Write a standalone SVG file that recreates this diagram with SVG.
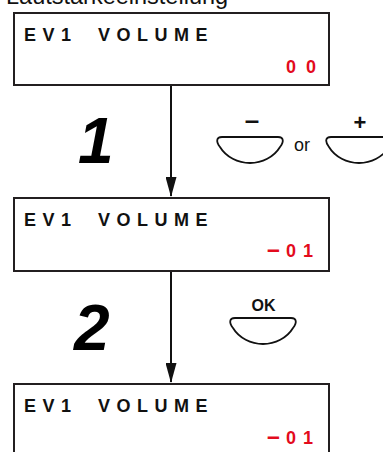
<svg xmlns="http://www.w3.org/2000/svg" width="383" height="452" viewBox="0 0 383 452">
<style>
.box{fill:#fff;stroke:#231f20;stroke-width:2}
.lbl{font-family:"Liberation Sans",Arial,sans-serif;font-weight:bold;font-size:18px;fill:#111;letter-spacing:6.5px}
.val{font-family:"Liberation Sans",Arial,sans-serif;font-weight:bold;font-size:18px;fill:#e30b1d}
.step{font-family:"Liberation Sans",Arial,sans-serif;font-weight:bold;font-style:italic;font-size:64px;fill:#000}
.btn{fill:#fff;stroke:#111;stroke-width:1.8}
.btxt{font-family:"Liberation Sans",Arial,sans-serif;font-weight:bold;fill:#111;text-anchor:middle}
.conn{fill:none;stroke:#111;stroke-width:2;marker-end:url(#ah)}
</style>
<defs>
<marker id="ah" markerUnits="userSpaceOnUse" markerWidth="20" markerHeight="11" refX="19" refY="5.5" orient="auto" viewBox="0 0 20 11">
<polygon points="0,0 20,5.5 0,11" fill="#111"/>
</marker>
<path id="bowl" d="M-28,0 H28 C34,0 34,5 30,10 C24,20 12,26 0,26 C-12,26 -24,20 -30,10 C-34,5 -34,0 -28,0 Z"/>
</defs>
<text x="6" y="4" font-family="Liberation Sans, Arial, sans-serif" font-size="23.5" fill="#111">Lautstärkeeinstellung</text>
<g id="connectors">
<path class="conn" d="M171,86 V196"/>
<path class="conn" d="M171,272 V382"/>
</g>
<g id="display1">
<rect class="box" x="14" y="13" width="315" height="72"/>
<text class="lbl" x="24" y="41">EV1</text>
<text class="lbl" x="98" y="41">VOLUME</text>
<text class="val" x="286 306" y="73">00</text>
</g>
<g id="display2">
<rect class="box" x="14" y="198" width="315" height="73"/>
<text class="lbl" x="24" y="226">EV1</text>
<text class="lbl" x="98" y="226">VOLUME</text>
<text class="val" y="257"><tspan x="267" font-size="23">–</tspan><tspan x="286">0</tspan><tspan x="303">1</tspan></text>
</g>
<g id="display3">
<rect class="box" x="14" y="384" width="315" height="80"/>
<text class="lbl" x="24" y="412">EV1</text>
<text class="lbl" x="98" y="412">VOLUME</text>
<text class="val" y="444"><tspan x="267" font-size="23">–</tspan><tspan x="286">0</tspan><tspan x="303">1</tspan></text>
</g>
<g id="step1">
<text class="step" x="78" y="163">1</text>
</g>
<g id="step2">
<text class="step" x="74" y="350">2</text>
</g>
<g id="btn-minus">
<use href="#bowl" class="btn" transform="translate(250,137)"/>
<text class="btxt" x="252" y="129" font-size="26">–</text>
</g>
<text x="294" y="151" font-family="Liberation Sans, Arial, sans-serif" font-size="18" fill="#111">or</text>
<g id="btn-plus">
<use href="#bowl" class="btn" transform="translate(359,137)"/>
<text class="btxt" x="360" y="130" font-size="22">+</text>
</g>
<g id="btn-ok">
<use href="#bowl" class="btn" transform="translate(263,318)"/>
<text class="btxt" x="263.5" y="311" font-size="16">OK</text>
</g>
</svg>
